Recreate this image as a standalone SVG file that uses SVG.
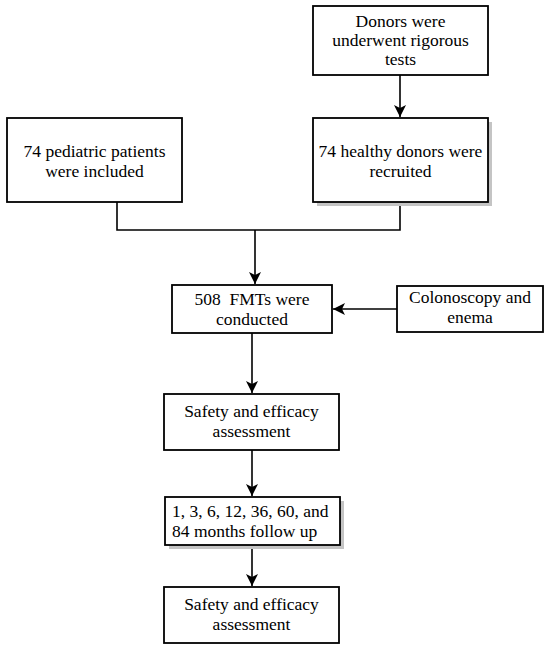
<svg xmlns="http://www.w3.org/2000/svg" width="551" height="649" viewBox="0 0 551 649">
<defs>
<style>
.box{fill:#fff;stroke:#000;stroke-width:1.8}
.shadow{fill:#c4c4c4;stroke:none}
.t{font-family:"Liberation Serif","Times New Roman",serif;font-size:17.5px;fill:#000;text-anchor:middle}
.tl{text-anchor:start}
.ln{fill:none;stroke:#000;stroke-width:1.6}
</style>
<marker id="ah" viewBox="0 0 12 12" refX="12" refY="6" markerWidth="12" markerHeight="12" markerUnits="userSpaceOnUse" orient="auto">
<path d="M0,0 L12,6 L0,12 L3,6 z" fill="#000"/>
</marker>
</defs>
<rect width="551" height="649" fill="#fff"/>
<g id="connectors">
<line class="ln" x1="400" y1="75" x2="400" y2="117" marker-end="url(#ah)"/>
<polyline class="ln" points="117,202 117,230 400,230 400,202"/>
<line class="ln" x1="255" y1="230" x2="255" y2="284" marker-end="url(#ah)"/>
<line class="ln" x1="397" y1="309" x2="333" y2="309" marker-end="url(#ah)"/>
<line class="ln" x1="252" y1="333" x2="252" y2="393" marker-end="url(#ah)"/>
<line class="ln" x1="252" y1="450" x2="252" y2="496" marker-end="url(#ah)"/>
<line class="ln" x1="252" y1="545" x2="252" y2="586" marker-end="url(#ah)"/>
</g>
<g id="donors-tests">
<rect class="box" x="313" y="6" width="175" height="69"/>
<text class="t" x="400.5" y="27">Donors were</text>
<text class="t" x="400.5" y="46">underwent rigorous</text>
<text class="t" x="400.5" y="65">tests</text>
</g>
<g id="healthy-donors">
<rect class="shadow" x="317" y="122" width="175" height="84"/>
<rect class="box" x="313" y="118" width="175" height="84"/>
<text class="t" x="400.5" y="157">74 healthy donors were</text>
<text class="t" x="400.5" y="177">recruited</text>
</g>
<g id="pediatric-patients">
<rect class="box" x="7" y="118" width="175" height="84"/>
<text class="t" x="94.5" y="157">74 pediatric patients</text>
<text class="t" x="94.5" y="177">were included</text>
</g>
<g id="fmts">
<rect class="box" x="172" y="285" width="160" height="48"/>
<text class="t" x="252" y="305" xml:space="preserve">508  FMTs were</text>
<text class="t" x="252" y="325">conducted</text>
</g>
<g id="colonoscopy">
<rect class="box" x="397" y="286" width="146" height="46"/>
<text class="t" x="470" y="303">Colonoscopy and</text>
<text class="t" x="470" y="323">enema</text>
</g>
<g id="safety-1">
<rect class="box" x="164" y="394" width="175" height="56"/>
<text class="t" x="251.5" y="417">Safety and efficacy</text>
<text class="t" x="251.5" y="437">assessment</text>
</g>
<g id="follow-up">
<rect class="shadow" x="169" y="501" width="175" height="48"/>
<rect class="box" x="165" y="497" width="175" height="48"/>
<text class="t tl" x="172" y="517">1, 3, 6, 12, 36, 60, and</text>
<text class="t tl" x="172" y="537">84 months follow up</text>
</g>
<g id="safety-2">
<rect class="box" x="164" y="587" width="175" height="56"/>
<text class="t" x="251.5" y="610">Safety and efficacy</text>
<text class="t" x="251.5" y="630">assessment</text>
</g>
</svg>
